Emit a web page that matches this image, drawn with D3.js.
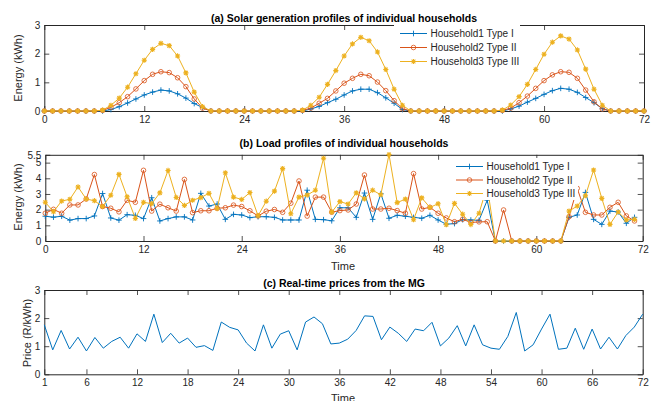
<!DOCTYPE html>
<html><head><meta charset="utf-8">
<script src="https://cdn.jsdelivr.net/npm/d3@7"></script>
<style>
body{margin:0;background:#fff;}
svg{display:block;font-family:"Liberation Sans",Arial,Helvetica,sans-serif;}
</style></head>
<body><svg id="chart" width="656" height="401"></svg>
<script>
// ---------- DATA ----------
const seriesNames = ["Household1 Type I", "Household2 Type II", "Household3 Type III"];
const seriesColors = ["#0072BD", "#D95319", "#EDB120"];

const solarTime = d3.range(0, 73);
const solar1 = [0,0,0,0,0,0,0,0,0.05,0.15,0.28,0.42,0.56,0.66,0.73,0.70,0.60,0.45,0.26,0.12,0,0,0,0,0,0,0,0,0,0,0,0,0.07,0.16,0.29,0.41,0.56,0.70,0.76,0.76,0.64,0.46,0.27,0.05,0,0,0,0,0,0,0,0,0,0,0,0,0.07,0.17,0.31,0.44,0.58,0.71,0.79,0.76,0.65,0.47,0.29,0.08,0,0,0,0,0];
const solar2 = [0,0,0,0,0,0,0,0.02,0.13,0.29,0.50,0.77,1.06,1.28,1.37,1.34,1.16,0.85,0.42,0.10,0,0,0,0,0,0,0,0,0,0,0,0.02,0.10,0.27,0.44,0.70,0.97,1.14,1.28,1.23,1.01,0.71,0.36,0.08,0,0,0,0,0,0,0,0,0,0,0,0.02,0.10,0.29,0.52,0.79,1.06,1.26,1.37,1.35,1.14,0.73,0.32,0.07,0,0,0,0,0];
const solar3 = [0,0,0,0,0,0,0,0.03,0.20,0.45,0.83,1.30,1.77,2.15,2.36,2.28,1.92,1.33,0.66,0.15,0,0,0,0,0,0,0,0,0,0,0,0.03,0.20,0.48,0.93,1.41,1.92,2.34,2.57,2.45,2.06,1.45,0.76,0.20,0,0,0,0,0,0,0,0,0,0,0,0.03,0.21,0.50,0.93,1.45,1.98,2.40,2.62,2.51,2.13,1.46,0.76,0.20,0,0,0,0,0];

const loadTime = d3.range(0, 73);
const load1 = [1.58,1.52,1.58,1.33,1.43,1.43,1.60,3.03,1.47,1.33,1.68,1.64,1.43,2.76,1.28,1.43,1.54,1.54,1.34,3.04,2.23,2.36,1.38,1.70,1.66,1.49,1.55,1.55,1.51,1.34,1.34,1.34,3.24,1.38,1.36,1.29,2.12,2.12,1.51,3.06,1.38,3.02,1.45,1.64,1.58,1.51,1.45,1.64,1.34,1.07,1.11,1.36,1.34,1.32,2.60,0,0,0,0,0,0,0,0,0,1.51,1.66,3.10,1.38,1.06,1.91,1.85,1.13,1.51];
const load2 = [1.77,2.02,1.77,2.30,2.30,2.68,4.24,2.20,2.09,1.86,2.60,2.47,4.51,1.91,2.35,2.12,1.91,3.93,1.81,1.93,1.93,2.09,2.12,2.29,2.20,1.93,1.60,1.90,2.01,1.83,2.41,3.83,1.59,2.80,2.80,1.84,1.94,1.98,2.36,4.21,2.04,2.04,2.09,1.94,1.77,4.30,2.04,2.15,1.77,1.47,1.23,1.39,1.18,1.22,1.23,0,1.98,0,0,0,0,0,0,0,1.55,3.36,1.83,1.66,1.66,2.15,2.47,1.60,1.28];
const load3 = [2.47,1.87,2.55,2.66,3.45,2.68,2.57,2.20,2.92,4.25,2.82,1.44,2.47,2.38,3.07,4.50,2.78,2.27,2.60,2.77,3.04,2.07,4.35,2.80,2.65,3.09,1.61,2.54,3.18,4.62,1.74,2.80,2.93,3.24,5.28,1.84,2.51,2.36,3.07,2.69,3.24,2.95,5.52,2.45,2.67,1.36,2.75,2.14,2.38,1.04,2.40,1.71,1.05,1.77,3.50,0,0,0,0,0,0,0,0,0,1.91,2.23,2.89,4.53,2.72,1.06,1.85,1.34,1.38];

const priceTime = d3.range(1, 73);
const price = [1.76,0.87,1.56,0.90,1.32,0.83,1.31,0.93,1.17,1.32,0.93,1.44,1.17,2.14,1.13,1.46,1.11,1.29,0.96,1.02,0.85,1.86,1.67,1.58,1.11,0.83,1.76,0.93,1.43,1.55,0.87,1.86,2.04,1.80,1.08,1.11,1.25,1.56,2.08,2.06,1.23,1.68,1.46,1.17,1.61,1.55,1.85,1.01,1.29,1.73,1.01,1.76,1.05,0.93,0.89,1.35,2.20,0.83,1.05,1.61,2.14,0.89,0.93,1.64,0.89,1.61,0.90,1.32,0.90,1.38,1.68,2.14];

const solarXTicks = [0,12,24,36,48,60,72];
const solarYTicks = [0,1,2,3];
const loadXTickPos = [0,12,24,36,48,60,73];
const loadXTickLabels = ["0","12","24","36","48","60","72"];
const loadYTicks = [0,1,2,3,4,5,5.5];
const priceXTicks = [1,6,12,18,24,30,36,42,48,54,60,66,72];
const priceYTicks = [0,1,2,3];

const titles = ["(a) Solar generation profiles of individual households",
                "(b) Load profiles of individual households",
                "(c) Real-time prices from the MG"];

// ---------- DRAW ----------
const svg = d3.select("#chart");
const TXT = "#262626";

const xa = d3.scaleLinear([0,72],[44.3,644]);
const ya = d3.scaleLinear([0,3],[111,25]);
const xb = d3.scaleLinear([0,73],[45.3,642.7]);
const yb = d3.scaleLinear([0,5.5],[241,154.8]);
const xc = d3.scaleLinear([1,72],[44.3,642.7]);
const yc = d3.scaleLinear([0,3],[374.3,290]);

function styleAxis(g){
  g.selectAll("path.domain").attr("stroke",TXT).attr("stroke-width",1);
  g.selectAll(".tick line").attr("stroke",TXT).attr("stroke-width",0.8);
  g.selectAll("text").attr("fill",TXT).attr("font-size","10px").attr("font-family","Liberation Sans, Arial, sans-serif");
}

function frame(x, y, xTicks, xFmt, yTicks, yFmt){
  const [x0,x1]=x.range(), [y0,y1]=y.range();
  const ts=-5;
  svg.append("g").attr("transform",`translate(0,${y0})`)
    .call(d3.axisBottom(x).tickValues(xTicks).tickFormat(xFmt).tickSizeInner(ts).tickSizeOuter(0).tickPadding(5))
    .call(styleAxis);
  svg.append("g").attr("transform",`translate(0,${y1})`)
    .call(d3.axisTop(x).tickValues(xTicks).tickFormat("").tickSizeInner(ts).tickSizeOuter(0))
    .call(styleAxis);
  svg.append("g").attr("transform",`translate(${x0},0)`)
    .call(d3.axisLeft(y).tickValues(yTicks).tickFormat(yFmt).tickSizeInner(ts).tickSizeOuter(0).tickPadding(4))
    .call(styleAxis);
  svg.append("g").attr("transform",`translate(${x1},0)`)
    .call(d3.axisRight(y).tickValues(yTicks).tickFormat("").tickSizeInner(ts).tickSizeOuter(0))
    .call(styleAxis);
}

const markerPaths = [
  "M-2.8,0H2.8M0,-2.8V2.8",
  null,
  "M-2.6,0H2.6M0,-2.6V2.6M-1.9,-1.9L1.9,1.9M-1.9,1.9L1.9,-1.9"
];
function drawMarker(g, i, px, py){
  if(i===1){
    g.append("circle").attr("cx",px).attr("cy",py).attr("r",2.3)
     .attr("fill","none").attr("stroke",seriesColors[i]).attr("stroke-width",0.8);
  } else {
    g.append("path").attr("transform",`translate(${px},${py})`).attr("d",markerPaths[i])
     .attr("fill","none").attr("stroke",seriesColors[i]).attr("stroke-width",i===2?1.1:0.9);
  }
}

function series(x, y, t, vals, i){
  const g = svg.append("g");
  const line = d3.line().x((d,k)=>x(t[k])).y(d=>y(d));
  g.append("path").attr("d",line(vals)).attr("fill","none")
   .attr("stroke",seriesColors[i]).attr("stroke-width",1);
  vals.forEach((v,k)=>drawMarker(g,i,x(t[k]),y(v)));
}

function legend(bx, by, bw, bh, lx0, lx1, ty0, dy){
  const g = svg.append("g");
  g.append("rect").attr("x",bx).attr("y",by).attr("width",bw).attr("height",bh).attr("fill","#fff");
  seriesNames.forEach((n,i)=>{
    const yy = ty0 + i*dy;
    g.append("line").attr("x1",lx0).attr("x2",lx1).attr("y1",yy).attr("y2",yy)
      .attr("stroke",seriesColors[i]).attr("stroke-width",1);
    drawMarker(g,i,(lx0+lx1)/2,yy);
    g.append("text").attr("x",lx1+3.5).attr("y",yy).attr("dy","0.35em")
      .attr("font-size","10px").attr("fill",TXT).text(n);
  });
}

function title(txt, cx, cy){
  svg.append("text").attr("x",cx).attr("y",cy).attr("dy","0.35em").attr("text-anchor","middle")
    .attr("font-size","10.5px").attr("font-weight","bold").attr("fill","#000").text(txt);
}
function ylabel(txt, cx, cy){
  svg.append("text").attr("transform",`translate(${cx},${cy}) rotate(-90)`).attr("dy","0.35em")
    .attr("text-anchor","middle").attr("font-size","11px").attr("fill",TXT).text(txt);
}
function xlabel(txt, cx, cy){
  svg.append("text").attr("x",cx).attr("y",cy).attr("dy","0.35em").attr("text-anchor","middle")
    .attr("font-size","11px").attr("fill",TXT).text(txt);
}

// Panel (a)
frame(xa, ya, solarXTicks, d3.format("d"), solarYTicks, d3.format("d"));
[solar1,solar2,solar3].forEach((s,i)=>series(xa,ya,solarTime,s,i));
legend(394, 23, 126, 47, 400, 427, 33.5, 14);
title(titles[0], 344, 18);
ylabel("Energy (kWh)", 18, 68);

// Panel (b)
frame(xb, yb, loadXTickPos, (d,i)=>loadXTickLabels[i], loadYTicks, d=>String(d));
[load1,load2,load3].forEach((s,i)=>series(xb,yb,loadTime,s,i));
legend(452, 158, 126, 42, 456, 483, 166.5, 13.5);
title(titles[1], 344, 143);
ylabel("Energy (kWh)", 18, 197);
xlabel("Time", 343, 266);

// Panel (c)
frame(xc, yc, priceXTicks, d3.format("d"), priceYTicks, d3.format("d"));
svg.append("path").attr("d", d3.line().x((d,k)=>xc(priceTime[k])).y(d=>yc(d))(price))
  .attr("fill","none").attr("stroke",seriesColors[0]).attr("stroke-width",1);
title(titles[2], 344, 283);
ylabel("Price (R/kWh)", 27, 333);
xlabel("Time", 343, 398);
</script></body></html>
